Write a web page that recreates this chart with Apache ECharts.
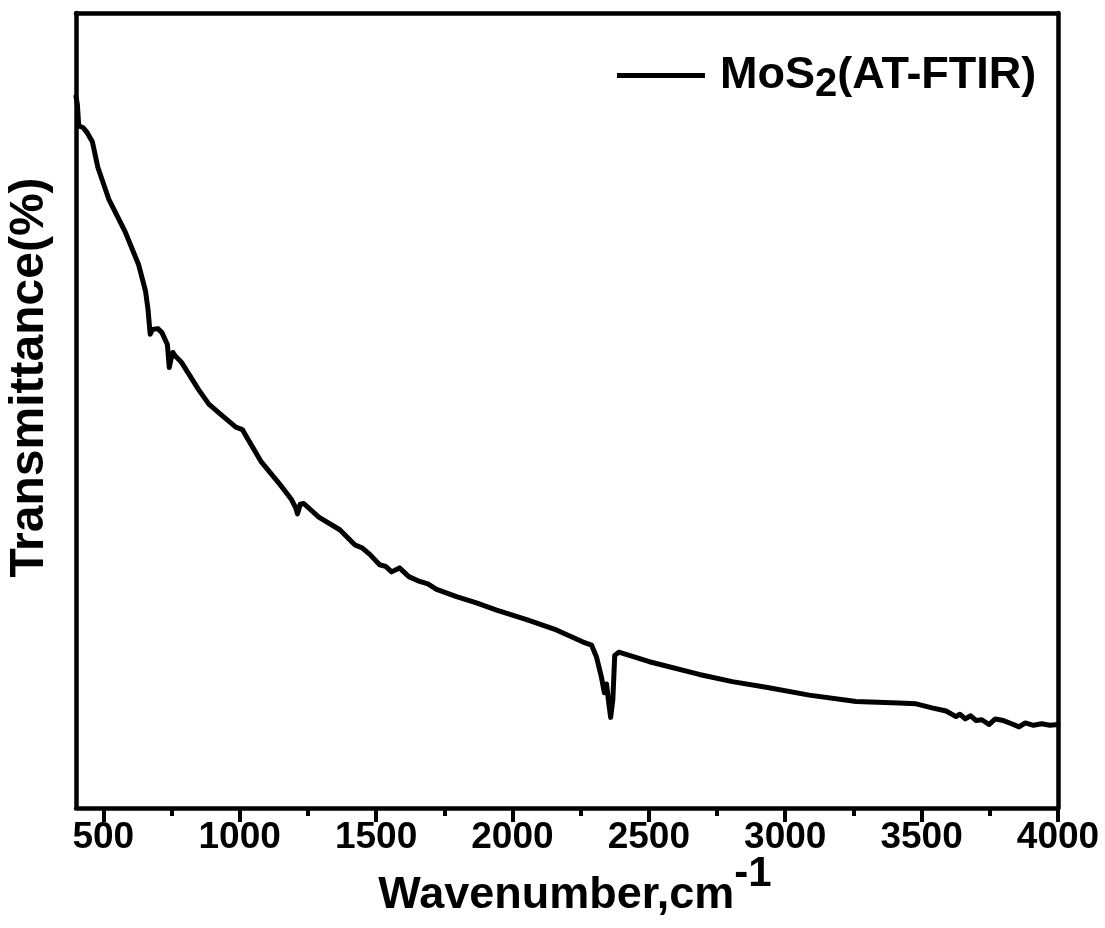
<!DOCTYPE html>
<html>
<head>
<meta charset="utf-8">
<script src="https://cdn.jsdelivr.net/npm/echarts@6/dist/echarts.min.js"></script>
<style>
  html, body { margin: 0; padding: 0; background: #fff; }
  #chart { width: 1105px; height: 928px; }
</style>
</head>
<body>
<div id="chart"></div>
<script>
// FTIR spectrum of MoS2: wavenumber (cm^-1) and transmittance (arbitrary %, no scale shown)
const wavenumbers = [
  400, 405, 410, 425, 440, 460, 480, 520, 580, 630, 655, 664, 668, 672, 680, 700,
  715, 735, 742, 748, 755, 763, 788, 850, 887, 924, 986, 1010, 1025, 1080, 1143,
  1190, 1205, 1212, 1222, 1235, 1290, 1367, 1422, 1450, 1477, 1513, 1535, 1557,
  1586, 1620, 1660, 1690, 1722, 1795, 1868, 1942, 2052, 2161, 2257, 2290, 2308,
  2326, 2337, 2345, 2352, 2360, 2368, 2375, 2390, 2502, 2685, 2806, 2930, 3088,
  3260, 3417, 3480, 3538, 3590, 3626, 3640, 3660, 3680, 3700, 3721, 3747, 3770,
  3800, 3830, 3857, 3880, 3910, 3940, 3970, 4000
];
const transmittance = [
  89.5, 88.5, 85.8, 85.6, 85.0, 83.8, 80.6, 76.6, 72.5, 68.3, 65.0, 62.7, 62.5, 59.6, 60.2, 60.3,
  59.8, 58.3, 55.4, 56.4, 57.3, 56.9, 56.0, 52.6, 50.8, 49.7, 47.9, 47.6, 46.7, 43.5, 40.9,
  38.8, 37.8, 37.0, 38.2, 38.3, 36.6, 35.0, 33.1, 32.7, 31.9, 30.6, 30.4, 29.7,
  30.2, 29.1, 28.5, 28.2, 27.5, 26.6, 25.8, 24.9, 23.7, 22.4, 20.9, 20.5, 19.0,
  16.5, 14.5, 15.6, 13.5, 11.4, 13.6, 19.2, 19.6, 18.4, 16.8, 15.9, 15.2, 14.2,
  13.4, 13.2, 13.1, 12.6, 12.2, 11.5, 11.8, 11.2, 11.6, 11.0, 11.1, 10.5, 11.2,
  11.0, 10.6, 10.2, 10.7, 10.4, 10.6, 10.4, 10.5
];
const majorTicks = [500, 1000, 1500, 2000, 2500, 3000, 3500, 4000];
const minorTicks = [750, 1250, 1750, 2250, 2750, 3250, 3750];
const seriesName = 'MoS2(AT-FTIR)';

const FONT = '"Liberation Sans", Arial, sans-serif';
const points = wavenumbers.map((w, i) => [w, transmittance[i]]);

const chart = echarts.init(document.getElementById('chart'), null, { renderer: 'canvas' });

const frameLine = { show: true, onZero: false, lineStyle: { color: '#000', width: 4.5 } };

chart.setOption({
  backgroundColor: '#fff',
  animation: false,
  grid: { left: 76, right: 47, top: 13, bottom: 120, containLabel: false, outerBoundsMode: 'none' },
  legend: {
    left: 612,
    top: 48,
    icon: 'rect',
    itemWidth: 88,
    itemHeight: 5,
    formatter: () => 'MoS{sub|2}(AT-FTIR)',
    textStyle: {
      fontFamily: FONT, fontSize: 45, fontWeight: 'bold', color: '#000',
      padding: [0, 0, 0, 10],
      rich: {
        sub: { fontFamily: FONT, fontSize: 40, fontWeight: 'bold', color: '#000', padding: [18, 0, 0, 0] }
      }
    },
    data: [seriesName]
  },
  xAxis: [
    {
      type: 'value', min: 400, max: 4000, position: 'bottom',
      name: 'Wavenumber,cm{sup|-1}',
      nameLocation: 'middle', nameGap: 45, nameMoveOverlap: false,
      nameTextStyle: {
        fontFamily: FONT, fontSize: 45, fontWeight: 'bold', color: '#000',
        padding: [0, 0, 0, 16],
        rich: {
          sup: { fontFamily: FONT, fontSize: 42, fontWeight: 'bold', color: '#000', padding: [0, 0, 44, 0] }
        }
      },
      axisLine: frameLine,
      axisTick: { show: true, inside: false, length: 14, customValues: majorTicks, lineStyle: { color: '#000', width: 4 } },
      axisLabel: {
        show: true, customValues: majorTicks, margin: 11,
        formatter: (v) => String(v),
        fontFamily: FONT, fontSize: 37, fontWeight: 'bold', color: '#000'
      },
      splitLine: { show: false }
    },
    {
      // minor ticks between the labelled ones
      type: 'value', min: 400, max: 4000, position: 'bottom',
      axisLine: { show: false },
      axisTick: { show: true, inside: false, length: 8, customValues: minorTicks, lineStyle: { color: '#000', width: 4 } },
      axisLabel: { show: false },
      splitLine: { show: false }
    },
    {
      // top edge of the frame
      type: 'value', min: 400, max: 4000, position: 'top',
      axisLine: frameLine, axisTick: { show: false }, axisLabel: { show: false }, splitLine: { show: false }
    }
  ],
  yAxis: [
    {
      type: 'value', min: 0, max: 100, position: 'left',
      name: 'Transmittance(%)',
      nameLocation: 'middle', nameRotate: 90, nameGap: 22,
      nameTextStyle: { fontFamily: FONT, fontSize: 48, fontWeight: 'bold', color: '#000', padding: [0, 0, 0, 66] },
      axisLine: frameLine, axisTick: { show: false }, axisLabel: { show: false }, splitLine: { show: false }
    },
    {
      // right edge of the frame
      type: 'value', min: 0, max: 100, position: 'right',
      axisLine: frameLine, axisTick: { show: false }, axisLabel: { show: false }, splitLine: { show: false }
    }
  ],
  series: [
    {
      name: seriesName,
      type: 'line',
      xAxisIndex: 0, yAxisIndex: 0,
      data: points,
      showSymbol: false,
      symbol: 'none',
      smooth: false,
      lineStyle: { color: '#000', width: 5, join: 'round', cap: 'round' },
      itemStyle: { color: '#000' }
    }
  ]
});
</script>
</body>
</html>
